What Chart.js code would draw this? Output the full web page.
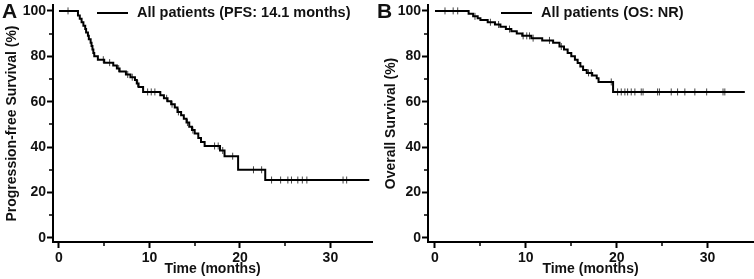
<!DOCTYPE html>
<html lang="en">
<head>
<meta charset="UTF-8" />
<title>Kaplan-Meier: PFS and OS</title>
<script src="https://cdn.jsdelivr.net/npm/chart.js"></script>
<style>
  body {
    margin: 0;
    background: #fff;
    width: 754px;
    height: 279px;
    overflow: hidden;
    position: relative;
  }
  .panel { position: absolute; top: 0; width: 377px; height: 279px; }
  #panelA { left: 0; }
  #panelB { left: 377px; }
</style>
</head>
<body>
<div class="panel" id="panelA"><canvas id="pfsChart" width="377" height="279"></canvas></div>
<div class="panel" id="panelB"><canvas id="osChart" width="377" height="279"></canvas></div>

<script>
// PFS curve: event times (months) and survival (%) after each step
const pfsTimes = [0, 2.1, 2.3, 2.5, 2.7, 2.9, 3.0, 3.2, 3.3, 3.5, 3.6, 3.7, 3.8, 3.9, 4.3, 5.0, 6.0, 6.4, 6.7, 7.4, 7.9, 8.4, 8.6, 8.8, 9.3,
  11.2, 11.6, 12.0, 12.4, 12.8, 13.1, 13.5, 13.8, 14.1, 14.4, 14.7, 15.0, 15.4, 15.7, 16.1, 17.8, 18.3, 19.8, 22.8, 34.3];
const pfsSurvival = [100, 98, 96.5, 95, 93.5, 92, 90.5, 89, 87.5, 86, 84.5, 83, 81.5, 80, 78.5, 77.2, 76, 74.6, 73.3, 72, 70.8, 69.6, 68, 66.5, 64.3,
  62.8, 61.5, 60.2, 58.9, 57.4, 55.5, 54, 52.5, 50.8, 49, 47.5, 46, 44, 42.3, 40.5, 38.5, 36, 30, 25.5, 25.5];
const pfsCensored = [1.0, 4.9, 5.6, 6.6, 7.6, 8.1, 8.7, 9.8, 10.2, 10.6, 11.9, 12.5, 13.2, 14.2, 14.8, 17.2, 17.6, 18.1, 19.2,
  21.5, 22.4, 23.5, 24.5, 25.3, 25.7, 26.4, 26.9, 27.4, 31.4, 31.8];

// OS curve
const osTimes = [0, 3.7, 4.2, 4.7, 5.0, 5.8, 6.6, 7.2, 7.8, 8.4, 9.0, 9.6, 10.6, 11.8, 13.0, 13.7, 14.2, 14.6, 15.0, 15.4, 15.7, 16.0, 16.3,
  16.7, 17.3, 17.8, 18.0, 19.6, 34.1];
const osSurvival = [100, 98.8, 97.6, 96.8, 96, 95, 94, 93, 92, 91, 90, 89, 88, 87, 86, 84.3, 83, 81.5, 80, 78.5, 77, 75.5, 74,
  72.7, 71.5, 70.3, 68.7, 64.3, 64.3];
const osCensored = [1.1, 2.0, 2.5, 4.4, 6.1, 7.0, 8.2, 9.7, 10.1, 10.4, 10.8, 12.6, 13.9, 16.9, 17.2, 19.4, 20.1, 20.5, 20.9, 21.2,
  21.6, 22.0, 22.7, 22.9, 24.5, 24.7, 26.0, 26.7, 27.5, 28.6, 29.9, 31.7, 31.9];

const xTicks = [0, 10, 20, 30];
const xMinorTicks = [5, 15, 25];
const yTicks = [0, 20, 40, 60, 80, 100];
const yMinorTicks = [10, 30, 50, 70, 90];

const FONT = "'Liberation Sans', Arial, sans-serif";

function survivalAt(times, surv, t) {
  let s = surv[0];
  for (let i = 0; i < times.length; i++) {
    if (times[i] <= t) s = surv[i];
  }
  return s;
}

// minor ticks, panel letter and the in-plot legend
const decorPlugin = {
  id: "decor",
  afterDraw(chart, args, opts) {
    const ctx = chart.ctx;
    const area = chart.chartArea;
    const xs = chart.scales.x, ys = chart.scales.y;
    ctx.save();
    ctx.strokeStyle = "#000";
    ctx.lineWidth = 1.5;
    ctx.beginPath();
    xMinorTicks.forEach(v => {
      const px = Math.round(xs.getPixelForValue(v));
      ctx.moveTo(px, area.bottom);
      ctx.lineTo(px, area.bottom + 4);
    });
    yMinorTicks.forEach(v => {
      const py = Math.round(ys.getPixelForValue(v));
      ctx.moveTo(area.left, py);
      ctx.lineTo(area.left - 4, py);
    });
    ctx.stroke();

    // legend
    ctx.lineWidth = 2;
    ctx.beginPath();
    ctx.moveTo(opts.legendX, 13);
    ctx.lineTo(opts.legendX + 31, 13);
    ctx.stroke();
    ctx.fillStyle = "#111";
    ctx.font = "bold 14.5px " + FONT;
    ctx.textBaseline = "middle";
    ctx.fillText(opts.legendText, opts.legendX + 40, 13);

    // panel letter
    ctx.font = "bold 21px " + FONT;
    ctx.textBaseline = "top";
    ctx.fillText(opts.letter, opts.letterX, 2);
    ctx.restore();
  }
};

function makeKM(canvasId, o) {
  const curve = o.times.map((t, i) => ({ x: t, y: o.surv[i] }));
  const ticksC = o.censored.map(t => ({ x: t, y: survivalAt(o.times, o.surv, t) }));
  return new Chart(document.getElementById(canvasId), {
    type: "line",
    data: {
      datasets: [
        {
          label: o.legendText,
          data: curve,
          stepped: "before",
          borderColor: "#000",
          borderWidth: 2,
          pointRadius: 0,
          fill: false
        },
        {
          label: "Censored",
          data: ticksC,
          showLine: false,
          pointStyle: "line",
          rotation: 90,
          pointRadius: 3.5,
          borderWidth: 1,
          borderColor: "#444",
          pointBorderColor: "#444"
        }
      ]
    },
    options: {
      responsive: false,
      animation: false,
      layout: { autoPadding: false, padding: { top: 5, left: 0, right: o.padRight, bottom: 0 } },
      plugins: {
        legend: { display: false },
        tooltip: { enabled: false },
        decor: { legendText: o.legendText, legendX: o.legendX, letter: o.letter, letterX: o.letterX }
      },
      scales: {
        x: {
          type: "linear",
          min: o.xMin,
          max: o.xMax,
          afterBuildTicks: s => { s.ticks = xTicks.map(v => ({ value: v })); },
          afterFit: s => { s.height = 37; s.paddingLeft = 0; s.paddingRight = 0; },
          grid: { drawOnChartArea: false, drawTicks: true, tickLength: 6, tickWidth: 2, tickColor: "#000" },
          border: { display: true, width: 2, color: "#000" },
          ticks: { color: "#111", padding: 2, maxRotation: 0, font: { family: FONT, size: 14, weight: "bold" } },
          title: {
            display: true,
            text: "Time (months)",
            color: "#111",
            padding: { top: 0, bottom: 1 },
            font: { family: FONT, size: 14, weight: "bold" }
          }
        },
        y: {
          type: "linear",
          min: -1.8,
          max: 102.6,
          afterBuildTicks: s => { s.ticks = yTicks.map(v => ({ value: v })); },
          afterFit: s => { s.width = o.axisLeft; s.paddingTop = 0; s.paddingBottom = 0; },
          grid: { drawOnChartArea: false, drawTicks: true, tickLength: 6, tickWidth: 2, tickColor: "#000" },
          border: { display: true, width: 2, color: "#000" },
          ticks: { color: "#111", padding: 1, font: { family: FONT, size: 14, weight: "bold" } },
          title: {
            display: true,
            text: o.yTitle,
            color: "#111",
            padding: { top: o.yTitlePad, bottom: 0 },
            font: { family: FONT, size: 14, weight: "bold" }
          }
        }
      }
    },
    plugins: [decorPlugin]
  });
}

makeKM("pfsChart", {
  times: pfsTimes, surv: pfsSurvival, censored: pfsCensored,
  legendText: "All patients (PFS: 14.1 months)", legendX: 97,
  yTitle: "Progression-free Survival (%)", yTitlePad: 4,
  letter: "A", letterX: 2,
  axisLeft: 53, padRight: 5, xMin: -0.66, xMax: 34.6
});

makeKM("osChart", {
  times: osTimes, surv: osSurvival, censored: osCensored,
  legendText: "All patients (OS: NR)", legendX: 124,
  yTitle: "Overall Survival (%)", yTitlePad: 6,
  letter: "B", letterX: 0,
  axisLeft: 51, padRight: 1, xMin: -0.77, xMax: 35.0
});
</script>
</body>
</html>
